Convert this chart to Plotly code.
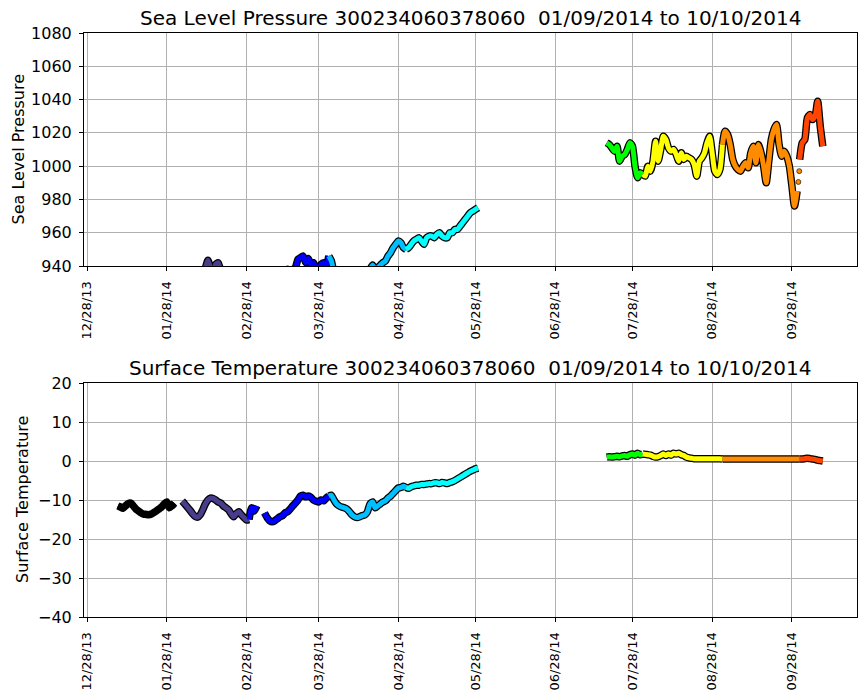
import pandas as pd
import plotly.graph_objects as go

# ---------------- data ----------------
tick_labels = ['12/28/13', '01/28/14', '02/28/14', '03/28/14', '04/28/14', '05/28/14',
               '06/28/14', '07/28/14', '08/28/14', '09/28/14']

month_starts = ['2014-01-09', '2014-02-01', '2014-03-01', '2014-04-01', '2014-05-01',
                '2014-07-18', '2014-08-01', '2014-09-01', '2014-10-01']
month_colors = ['#000000', '#483D8B', '#0000FF', '#00BFFF', '#00FFFF',
                '#00FF00', '#FFFF00', '#FF8C00', '#FF4500']

temp_jan = [-11.5, -11.8, -12.1, -11.5, -10.9, -10.8, -11.5, -12.3, -12.8, -13.3, -13.6, -13.7,
            -13.8, -13.6, -13.2, -12.8, -12.3, -11.8, -11.0, -10.5, -12.0, -11.5, -10.8]
temp_feb = [None, None, -10.3, -11.0, -11.8, -12.6, -13.5, -14.2, -14.4, -13.8, -12.5, -11.0,
            -10.0, -9.5, -9.6, -10.0, -10.5, -10.8, -11.5, -12.0, -12.5, -13.5, -14.3, -13.5,
            -13.0, -13.8, -14.5, -15.1]
temp_mar = [-15.0, -12.0, -12.8, -11.5, None, None, -13.3, -14.5, -15.3, -15.6, -15.3, -14.8,
            -14.3, -14.0, -13.3, -13.0, -12.3, -11.5, -10.8, -10.0, -9.0, -8.8, -9.2, -9.0,
            -9.3, -10.0, -10.3, -10.5, -10.0, -10.2, -9.5]
temp_apr = [-9.0, -8.8, -10.0, -11.0, -11.5, -11.8, -12.0, -12.3, -13.0, -13.8, -14.3, -14.5,
            -14.3, -14.0, -13.8, -13.0, -11.0, -10.5, -12.0, -11.5, -11.0, -10.5, -10.2, -9.5,
            -9.0, -8.3, -7.6, -6.9, -6.8, -6.5]
temp_may = [-6.8, -7.0, -6.6, -6.4, -6.2, -6.2, -6.0, -6.0, -5.9, -5.8, -5.8, -5.6, -5.6, -5.8,
            -5.5, -5.6, -5.8, -5.5, -5.3, -5.0, -4.6, -4.2, -3.8, -3.4, -3.0, -2.6, -2.3, -2.0,
            -1.8]
temp_jul = [1.0, 1.1, 1.0, 1.1, 1.2, 1.1, 1.3, 1.4, 1.2, 1.6, 1.8, 1.5, 2.0, 1.6]
temp_aug = [1.8, 1.7, 1.6, 1.5, 1.2, 1.0, 1.1, 1.4, 1.8, 1.4, 1.8, 1.5, 2.0, 1.8, 2.0, 1.6,
            1.4, 1.0, 0.8, 0.7, 0.6, 0.6, 0.6, 0.6, 0.6, 0.6, 0.6, 0.6, 0.6, 0.6, 0.6]
temp_sep = [0.5, 0.5, 0.5, 0.5, 0.5, 0.5, 0.5, 0.5, 0.5, 0.5, 0.5, 0.5, 0.5, 0.5, 0.5,
            0.5, 0.5, 0.5, 0.5, 0.5, 0.5, 0.5, 0.5, 0.5, 0.5, 0.5, 0.5, 0.5, 0.5, 0.5]
temp_oct = [0.5, 0.5, 0.6, 0.7, 0.6, 0.5, 0.4, 0.2, 0.1, 0.0]

pres_jan = [928, 926, 924, 925, 927, 930, 932, 931, 929, 927, 926, 928, 930, 933, 935, 934,
            931, 929, 927, 926, 928, 930, 932]
pres_feb = [None, None, 930, 932, 934, 935, 936, 937, 936, 934, 937, 939, 943.5, 939, 937,
            941, 942, 937, 934, 931, 929, 928, 930, 932, 933, 931, 930, 932]
pres_mar = [931, 933, 934, 932, None, None, 930, 928, 927, 929, 931, 933, 935, 936, 937, 938,
            937, 938, 939, 944, 945, 946, 942, 944.5, 941, 942, 939, 938, 941, 942, 940]
pres_apr = [946, 943, 936, 933, 931, 930, 929, 928, 930, 932, 934, 935, 933, 931, 932, 935,
            938, 940.6, 938, 939, 940.5, 942, 943, 946, 948, 951, 953, 955, 954, 951]
pres_may = [950, 951, 953, 955, 956, 957, 955, 953, 957, 958, 958, 957, 959, 960, 958, 957,
            957, 960, 960, 962, 962, 964, 966, 968, 970, 972, 973, 974, 975]
pres_jul = [1014, 1013, 1011, 1009, 1012, 1003, 1006, 1007, 1010, 1014, 1012, 1000, 993, 996]
pres_aug = [995, 994, 1000, 997, 1003, 1015, 1003, 1010, 1018, 1016, 1011, 1009, 1010, 1007,
            1003, 1008, 1004, 1006, 1005, 1004, 1001, 994, 1003, 1005, 1008, 1014, 1018, 1008,
            997, 995, 998]
pres_sep = [1013, 1021, 1019, 1013, 1004, 1000, 998, 997, 1000, 1002, 999, 1008, 1012, 1002,
            1013, 1008, 1000, 990, 1003, 1016, 1022, 1025, 1013, 1006, 1009, 1006, 1000, 988,
            976, 985]
pres_oct = [1004, 1014, 1016, 1029, 1031, 1028, 1030, 1039, 1024, 1012]

pres_dot_dates = ['2014-09-30 12:00', '2014-09-30 20:00']
pres_dot_values = [990.5, 997]
pres_dot_color = '#FF8C00'

# month boundaries (index of the later month) where the pressure record has a break
pres_breaks = [8]

temp_months = [temp_jan, temp_feb, temp_mar, temp_apr, temp_may, temp_jul, temp_aug, temp_sep, temp_oct]
pres_months = [pres_jan, pres_feb, pres_mar, pres_apr, pres_may, pres_jul, pres_aug, pres_sep, pres_oct]

buoy_id = '300234060378060'
date_span = '01/09/2014 to 10/10/2014'

# ---------------- figure ----------------
W, H = 867, 700
FONT = 'DejaVu Sans'
fig = go.Figure()

x_dom = [84 / W, 857 / W]
top_dom = [1 - 266 / H, 1 - 33 / H]
bot_dom = [1 - 617 / H, 1 - 383 / H]

OUT_W, IN_W = 7.5, 5.0
LINE_SHAPE = dict(shape='spline', smoothing=0.6)


def add_series(months, xa, ya, breaks=()):
    dates_list = [list(pd.date_range(s, periods=len(v), freq='D')) for s, v in zip(month_starts, months)]
    xs, ys = [], []
    for i, (d, v) in enumerate(zip(dates_list, months)):
        d2, v2 = list(d), list(v)
        # link each month's stroke to the first reading of the following month when continuous
        if i + 1 < len(months) and (i + 1) not in breaks:
            nd, nv = dates_list[i + 1][0], months[i + 1][0]
            if nv is not None and v2[-1] is not None and nd - d2[-1] == pd.Timedelta(days=1):
                d2.append(nd)
                v2.append(nv)
        xs.append(d2)
        ys.append(v2)
    for d, v in zip(xs, ys):
        fig.add_trace(go.Scatter(x=d, y=v, mode='lines', xaxis=xa, yaxis=ya,
                                 line=dict(color='black', width=OUT_W, **LINE_SHAPE),
                                 hoverinfo='skip', showlegend=False))
    for d, v, c in zip(xs, ys, month_colors):
        fig.add_trace(go.Scatter(x=d, y=v, mode='lines', xaxis=xa, yaxis=ya,
                                 line=dict(color=c, width=IN_W, **LINE_SHAPE),
                                 hoverinfo='skip', showlegend=False))


add_series(pres_months, 'x', 'y', breaks=pres_breaks)
fig.add_trace(go.Scatter(x=pd.to_datetime(pres_dot_dates), y=pres_dot_values, mode='markers',
                         xaxis='x', yaxis='y',
                         marker=dict(color=pres_dot_color, size=5, line=dict(color='black', width=0.6)),
                         hoverinfo='skip', showlegend=False))
add_series(temp_months, 'x2', 'y2')

tick_dates = pd.to_datetime(tick_labels, format='%m/%d/%y')
x_range = ['2013-12-26 20:00', '2014-10-23 07:00']

xcommon = dict(type='date', range=x_range, tickmode='array', tickvals=tick_dates,
               ticktext=tick_labels, tickangle=-90, showgrid=True, gridcolor='#b0b0b0',
               gridwidth=1, showline=True, linecolor='black', linewidth=1, mirror=True,
               ticks='outside', ticklen=4, tickcolor='black', tickwidth=1,
               tickfont=dict(family=FONT, size=13, color='black'), zeroline=False,
               automargin=False, ticklabelstandoff=5, domain=x_dom)
ycommon = dict(showgrid=True, gridcolor='#b0b0b0', gridwidth=1, showline=True,
               linecolor='black', linewidth=1, mirror=True, ticks='outside', ticklen=4,
               tickcolor='black', tickwidth=1, tickfont=dict(family=FONT, size=16, color='black'),
               zeroline=False, automargin=False, ticklabelstandoff=4)

fig.update_layout(
    width=W, height=H, margin=dict(l=0, r=0, t=0, b=0),
    paper_bgcolor='white', plot_bgcolor='white',
    font=dict(family=FONT, color='black'),
    xaxis=dict(xcommon, anchor='y'),
    xaxis2=dict(xcommon, anchor='y2'),
    yaxis=dict(ycommon, range=[940, 1080], tickmode='array',
               tickvals=[940, 960, 980, 1000, 1020, 1040, 1060, 1080], domain=top_dom, anchor='x'),
    yaxis2=dict(ycommon, range=[-40, 20], tickmode='array',
                tickvals=[-40, -30, -20, -10, 0, 10, 20], domain=bot_dom, anchor='x2'),
    annotations=[
        dict(text='Sea Level Pressure ' + buoy_id + '\u00a0 ' + date_span, x=470.5 / W, y=1 - 18 / H,
             xref='paper', yref='paper', showarrow=False, xanchor='center', yanchor='middle',
             font=dict(family=FONT, size=20, color='black')),
        dict(text='Surface Temperature ' + buoy_id + '\u00a0 ' + date_span, x=470.5 / W, y=1 - 368 / H,
             xref='paper', yref='paper', showarrow=False, xanchor='center', yanchor='middle',
             font=dict(family=FONT, size=20, color='black')),
        dict(text='Sea Level Pressure', x=18 / W, y=1 - 149.5 / H, xref='paper', yref='paper',
             showarrow=False, textangle=-90, xanchor='center', yanchor='middle',
             font=dict(family=FONT, size=16, color='black')),
        dict(text='Surface Temperature', x=22 / W, y=1 - 500 / H, xref='paper', yref='paper',
             showarrow=False, textangle=-90, xanchor='center', yanchor='middle',
             font=dict(family=FONT, size=16, color='black')),
    ],
)

fig.write_html('out.html', config={'displayModeBar': False},
               post_script="document.body.style.margin='0';")
